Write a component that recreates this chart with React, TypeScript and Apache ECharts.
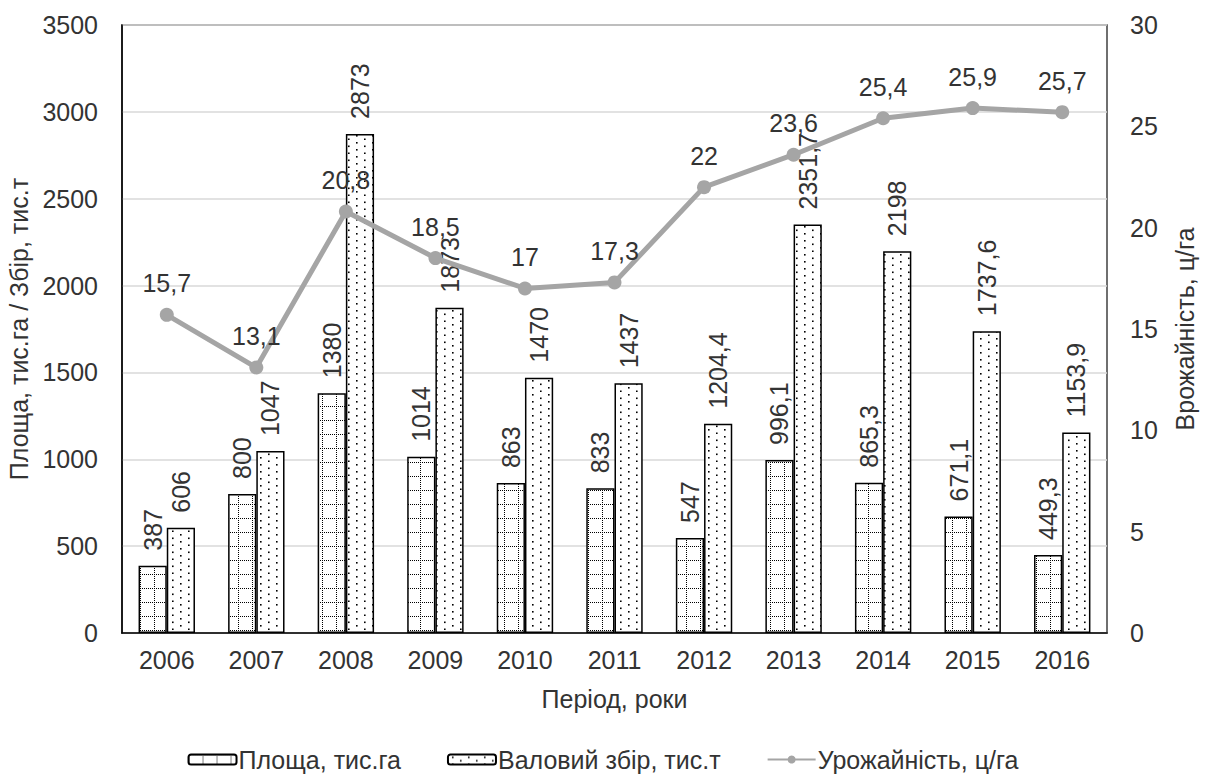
import React, { useEffect, useRef } from "react";
import * as echarts from "echarts";

const years = ["2006", "2007", "2008", "2009", "2010", "2011", "2012", "2013", "2014", "2015", "2016"];
const area = [387, 800, 1380, 1014, 863, 833, 547, 996.1, 865.3, 671.1, 449.3];
const harvest = [606, 1047, 2873, 1873, 1470, 1437, 1204.4, 2351.7, 2198, 1737.6, 1153.9];
const yieldPerHa = [15.7, 13.1, 20.8, 18.5, 17, 17.3, 22, 23.6, 25.4, 25.9, 25.7];

const FONT = "'Liberation Sans', Arial, sans-serif";
const TEXT = "#333333";
const FS = 25;

const comma = (v: number) => String(v).replace(".", ",");

// Dotted grid fill for the area bars
function gridPattern(): HTMLCanvasElement {
  const c = document.createElement("canvas");
  c.width = 14;
  c.height = 14;
  const ctx = c.getContext("2d")!;
  ctx.fillStyle = "#fff";
  ctx.fillRect(0, 0, 14, 14);
  ctx.fillStyle = "#000";
  for (let i = 0; i < 14; i += 2) {
    ctx.fillRect(i, 0, 1, 1);
    ctx.fillRect(0, i, 1, 1);
  }
  return c;
}

// Scattered dot fill for the harvest bars
function dotPattern(): HTMLCanvasElement {
  const c = document.createElement("canvas");
  c.width = 16;
  c.height = 14;
  const ctx = c.getContext("2d")!;
  ctx.fillStyle = "#fff";
  ctx.fillRect(0, 0, 16, 14);
  ctx.fillStyle = "#000";
  const pts = [
    [4, 2],
    [4, 9],
    [12, 5.5],
    [12, 12.5],
  ];
  for (const [x, y] of pts) ctx.fillRect(x, y, 1.6, 1.6);
  return c;
}

export default function App() {
  const ref = useRef<HTMLDivElement>(null);

  useEffect(() => {
    document.body.style.margin = "0";
    const chart = echarts.init(ref.current!, undefined, { renderer: "svg" });

    const barLabel = {
      show: true,
      position: "top" as const,
      rotate: 90,
      align: "left" as const,
      verticalAlign: "middle" as const,
      distance: 15,
      fontFamily: FONT,
      fontSize: FS,
      color: TEXT,
      formatter: (p: any) => comma(p.value),
    };

    chart.setOption({
      animation: false,
      backgroundColor: "#ffffff",
      textStyle: { fontFamily: FONT, color: TEXT },
      grid: {
        left: 122,
        right: 99,
        top: 25,
        bottom: 145,
        show: true,
        borderColor: "#404040",
        borderWidth: 1.5,
        outerBoundsMode: "none",
      },
      legend: {
        left: "center",
        top: 742,
        itemWidth: 48,
        itemHeight: 10,
        itemGap: 46,
        textStyle: { fontFamily: FONT, fontSize: FS, color: TEXT, padding: [0, 0, 0, -3] },
        data: ["Площа, тис.га", "Валовий збір, тис.т", "Урожайність, ц/га"],
      },
      xAxis: {
        type: "category",
        data: years,
        name: "Період, роки",
        nameLocation: "middle",
        nameGap: 53,
        nameTextStyle: { fontFamily: FONT, fontSize: FS, color: TEXT },
        axisLine: { lineStyle: { color: "#000", width: 1.5 } },
        axisTick: { show: false },
        axisLabel: { fontFamily: FONT, fontSize: FS, color: TEXT, margin: 14 },
      },
      yAxis: [
        {
          type: "value",
          min: 0,
          max: 3500,
          interval: 500,
          name: "Площа, тис.га / Збір, тис.т",
          nameLocation: "middle",
          nameRotate: 90,
          nameGap: 86,
          nameTextStyle: { fontFamily: FONT, fontSize: FS, color: TEXT },
          axisLine: { show: true, lineStyle: { color: "#000", width: 1.5 } },
          axisTick: { show: false },
          axisLabel: {
            fontFamily: FONT,
            fontSize: FS,
            color: TEXT,
            margin: 24,
            formatter: (v: number) => String(v),
          },
          splitLine: { lineStyle: { color: "#d9d9d9", width: 1.5 } },
        },
        {
          type: "value",
          min: 0,
          max: 30,
          interval: 5,
          position: "right",
          name: "Врожайність, ц/га",
          nameLocation: "middle",
          nameRotate: 90,
          nameGap: 65,
          nameTextStyle: { fontFamily: FONT, fontSize: FS, color: TEXT },
          axisLine: { show: false },
          axisTick: { show: false },
          axisLabel: {
            fontFamily: FONT,
            fontSize: FS,
            color: TEXT,
            margin: 23,
            formatter: (v: number) => String(v),
          },
          splitLine: { show: false },
        },
      ],
      series: [
        {
          name: "Площа, тис.га",
          type: "bar",
          data: area,
          barGap: "0%",
          barCategoryGap: "37%",
          itemStyle: {
            color: { image: gridPattern(), repeat: "repeat" },
            borderColor: "#000",
            borderWidth: 1.5,
          },
          label: barLabel,
        },
        {
          name: "Валовий збір, тис.т",
          type: "bar",
          data: harvest,
          itemStyle: {
            color: { image: dotPattern(), repeat: "repeat" },
            borderColor: "#000",
            borderWidth: 1.5,
          },
          label: barLabel,
        },
        {
          name: "Урожайність, ц/га",
          type: "line",
          yAxisIndex: 1,
          data: yieldPerHa,
          symbol: "circle",
          symbolSize: 14,
          color: "#a5a5a5",
          lineStyle: { color: "#a5a5a5", width: 5 },
          itemStyle: { color: "#a5a5a5" },
          label: {
            show: true,
            position: "top",
            distance: 12,
            fontFamily: FONT,
            fontSize: FS,
            color: TEXT,
            formatter: (p: any) => comma(p.value),
          },
          z: 5,
        },
      ],
    });

    return () => chart.dispose();
  }, []);

  return <div ref={ref} style={{ width: 1206, height: 778 }} />;
}
